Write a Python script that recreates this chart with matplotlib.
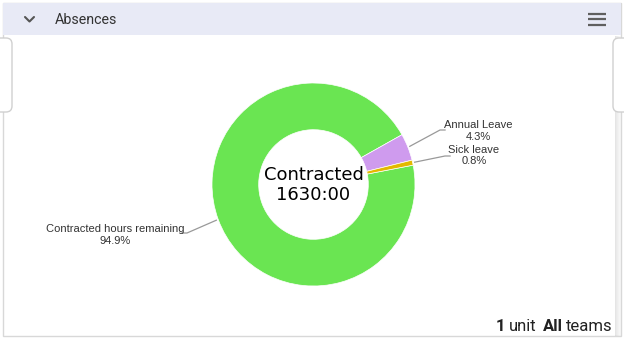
import numpy as np
import matplotlib
matplotlib.use("Agg")
import matplotlib.pyplot as plt
import matplotlib.transforms as mtransforms
from matplotlib.patches import Rectangle, FancyBboxPatch

# Absence breakdown (share of contracted hours)
categories = ["Contracted hours remaining", "Annual Leave", "Sick leave"]
shares = [94.9, 4.3, 0.8]
colors = ["#6ae552", "#cf9bee", "#e3b900"]
center_title = "Contracted"
center_value = "1630:00"
panel_title = "Absences"

W, H = 624, 338
fig = plt.figure(figsize=(W / 100, H / 100), dpi=100)
fig.patch.set_facecolor("white")

# Background axes in pixel coordinates for the card chrome
bg = fig.add_axes([0, 0, 1, 1])
bg.set_xlim(0, W)
bg.set_ylim(H, 0)
bg.axis("off")

# card border and right-hand shadow
bg.add_patch(Rectangle((3, 3), 618, 333, facecolor="white", edgecolor="#d8d8d8", lw=1))
for i, a in enumerate(np.linspace(0.10, 0.02, 6)):
    bg.add_patch(Rectangle((615 + i, 36), 1, 300, facecolor="#000000", alpha=a, edgecolor="none"))
# header bar
bg.add_patch(Rectangle((3, 3), 618, 32, facecolor="#e8eaf6", edgecolor="none"))
# chevron
bg.plot([25, 29.5, 34], [17, 21.5, 17], color="#555555", lw=1.5, solid_capstyle="round")
bg.text(55, 19.5, panel_title, fontsize=10.3, family="Roboto", color="#333333",
        va="center", ha="left")
# hamburger menu
for y in (13.5, 19, 24.5):
    bg.plot([588, 606], [y, y], color="#5f5f5f", lw=1.6, solid_capstyle="butt")

# side scroll tabs
bg.add_patch(FancyBboxPatch((-10, 38), 22, 74, boxstyle="round,pad=0,rounding_size=6",
                            facecolor="white", edgecolor="#d0d0d0", lw=1))
bg.add_patch(FancyBboxPatch((613, 38), 22, 74, boxstyle="round,pad=0,rounding_size=6",
                            facecolor="white", edgecolor="#d0d0d0", lw=1))

# footer text: "1 unit  All teams"
ft = dict(fontsize=12, family="Roboto", color="#222222", va="baseline")
fig.canvas.draw()
r = fig.canvas.get_renderer()
mixed = mtransforms.blended_transform_factory(mtransforms.IdentityTransform(), bg.transData)
x0 = bg.transData.transform((496, 0))[0]
parts = [("1", "bold", 3), ("unit", "normal", 7), ("All", "bold", 3), ("teams", "normal", 0)]
x = x0
for s, wgt, gap in parts:
    t = bg.text(x, 331, s, fontweight=wgt, transform=mixed, **ft)
    x = t.get_window_extent(renderer=r).x1 + gap

# Donut chart
cx, cy, R = 313.5, 184.5, 101.5
ax = fig.add_axes([(cx - R) / W, 1 - (cy + R) / H, 2 * R / W, 2 * R / H])
wedges, _ = ax.pie(shares, colors=colors, startangle=11, counterclock=False,
                   radius=1.0, wedgeprops=dict(width=0.46, edgecolor="white", linewidth=0.5))
ax.set_xlim(-1, 1)
ax.set_ylim(-1, 1)
ax.set_aspect("equal")
ax.axis("off")

ax.text(0, 0.095, center_title, ha="center", va="center", fontsize=13,
        family="DejaVu Sans", color="black")
ax.text(0, -0.105, center_value, ha="center", va="center", fontsize=13,
        family="DejaVu Sans", color="black")

# Labels with connectors (label anchor positions in pixels)
label_pos = {
    "Contracted hours remaining": (115, 229, 187, 233, "right"),
    "Annual Leave": (478, 125, 440, 130, "left"),
    "Sick leave": (474, 150, 445, 156, "left"),
}
to_px = lambda px, py: ((px - cx) / R, (cy - py) / R)
for w, name, val in zip(wedges, categories, shares):
    mid = np.deg2rad((w.theta1 + w.theta2) / 2)
    sx, sy = 1.02 * np.cos(mid), 1.02 * np.sin(mid)
    tx, ty, lx, ly, side = label_pos[name]
    ex, ey = to_px(lx, ly)
    hx = ex + (-0.05 if side == "right" else 0.05)
    ax.plot([sx, ex, hx], [sy, ey, ey], color="#999999", lw=0.9, clip_on=False)
    px, py = to_px(tx, ty)
    ax.text(px, py, name, ha="center", va="center", fontsize=8, family="Liberation Sans",
            color="#333333", clip_on=False)
    px2, py2 = to_px(tx, ty + 11.5)
    ax.text(px2, py2, f"{val:.1f}%", ha="center", va="center", fontsize=8,
            family="Liberation Sans", color="#333333", clip_on=False)

fig.savefig("out.png", dpi=100)
